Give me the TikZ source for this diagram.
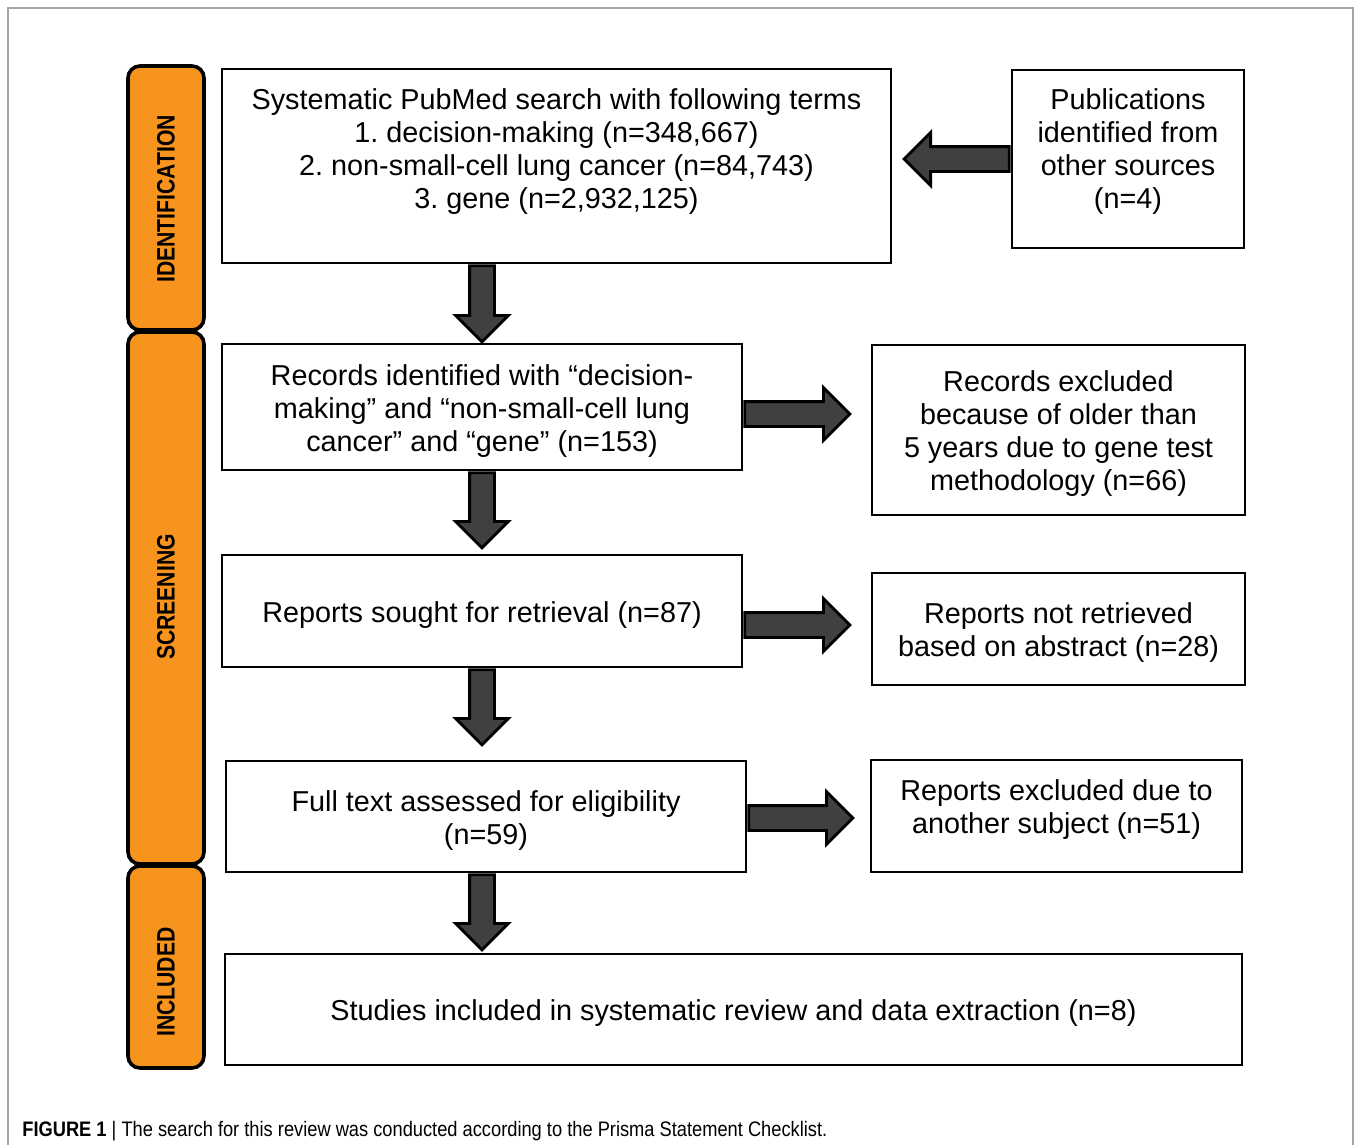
\documentclass[tikz,border=0pt]{standalone}
\usepackage{fontspec}
\setmainfont{Liberation Sans}
\newfontfamily\stagefont[FakeStretch=0.84]{Liberation Sans}
\newfontfamily\capfont[FakeStretch=0.87]{Liberation Sans}
\usetikzlibrary{shapes.arrows,fit}

\definecolor{stageorange}{RGB}{247,148,30}
\definecolor{arrowgray}{RGB}{64,64,64}
\definecolor{framegray}{RGB}{165,165,165}

\frenchspacing

\begin{document}
\begin{tikzpicture}[x=0.5pt,y=-0.5pt,
    box/.style={draw, line width=1.4pt, inner sep=0pt},
    boxtext/.style={align=center, inner sep=0pt, yshift=-2pt, font=\fontsize{14.4}{16.5}\selectfont},
    stage/.style={draw, line width=1.8pt, fill=stageorange, rounded corners=6pt},
    stagetext/.style={rotate=90, inner sep=0pt, font=\stagefont\bfseries\fontsize{12.6}{14}\selectfont},
    fatarrow/.style={single arrow, draw, line width=1.4pt, fill=arrowgray, inner sep=5.5pt,
      single arrow head extend=7pt, single arrow tip angle=90, anchor=tail}]
    \useasboundingbox (0,0) rectangle (1354,1145);

    % Outer frame of the figure
    \draw[framegray, line width=1pt] (8,1145) -- (8,8) -- (1353,8) -- (1353,1145);

    % Stage bars on the left
    \draw[stage] (128,66) rectangle (204,330);
    \draw[stage] (128,332) rectangle (204,864);
    \draw[stage] (128,866) rectangle (204,1068);
    \node[stagetext] (idlab) at (166,199) {IDENTIFICATION};
    \node[stagetext] (sclab) at (166,597) {SCREENING};
    \node[stagetext] (inlab) at (166,982) {INCLUDED};

    % Boxes
    \node[box, fit={(222,69) (891,263)}] (search) {};
    \node[box, fit={(1012,70) (1244,248)}] (other) {};
    \node[box, fit={(222,344) (742,470)}] (rec) {};
    \node[box, fit={(872,345) (1245,515)}] (excl) {};
    \node[box, fit={(222,555) (742,667)}] (sought) {};
    \node[box, fit={(872,573) (1245,685)}] (notret) {};
    \node[box, fit={(226,761) (746,872)}] (full) {};
    \node[box, fit={(871,760) (1242,872)}] (exclsub) {};
    \node[box, fit={(225,954) (1242,1065)}] (incl) {};

    % Box texts
    \node[boxtext] (search-t) at ([yshift=9.25pt]search.center)
      {Systematic PubMed search with following terms\\ 1. decision-making (n=348,667)\\
       2. non-small-cell lung cancer (n=84,743)\\ 3. gene (n=2,932,125)};
    \node[boxtext] (other-t) at ([yshift=5.75pt]other.center)
      {Publications\\ identified from\\ other sources\\ (n=4)};
    \node[boxtext] (rec-t) at (rec.center)
      {Records identified with “decision-\\ making” and “non-small-cell lung\\ cancer” and “gene” (n=153)};
    \node[boxtext] (excl-t) at (excl.center)
      {Records excluded\\ because of older than\\ 5 years due to gene test\\ methodology (n=66)};
    \node[boxtext] (sought-t) at (sought.center) {Reports sought for retrieval (n=87)};
    \node[boxtext] (notret-t) at (notret.center) {Reports not retrieved\\ based on abstract (n=28)};
    \node[boxtext] (full-t) at (full.center) {Full text assessed for eligibility\\ (n=59)};
    \node[boxtext] (exclsub-t) at ([yshift=5.25pt]exclsub.center) {Reports excluded due to\\ another subject (n=51)};
    \node[boxtext] (incl-t) at (incl.center) {Studies included in systematic review and data extraction (n=8)};

    % Block arrows
    \node[fatarrow, rotate=180, minimum height=52.5pt] (a0) at (other.west) {};
    \node[fatarrow, rotate=-90, minimum height=38pt] (a1) at (search.south -| rec.south) {};
    \node[fatarrow, rotate=-90, minimum height=37.5pt] (a2) at (rec.south) {};
    \node[fatarrow, rotate=-90, minimum height=37.5pt] (a3) at (sought.south) {};
    \node[fatarrow, rotate=-90, minimum height=37.5pt] (a4) at (full.south -| rec.south) {};
    \node[fatarrow, minimum height=52.5pt] (r1) at ([yshift=-3.5pt]rec.east) {};
    \node[fatarrow, minimum height=52.5pt] (r2) at ([yshift=-7pt]sought.east) {};
    \node[fatarrow, minimum height=52pt] (r3) at ([yshift=-0.75pt]full.east) {};

    % Caption
    \node[anchor=base west, inner sep=0pt, font=\capfont\fontsize{10.5}{12}\selectfont] (caption) at (22,1136)
      {\textbf{FIGURE 1} | The search for this review was conducted according to the Prisma Statement Checklist.};
\end{tikzpicture}
\end{document}
